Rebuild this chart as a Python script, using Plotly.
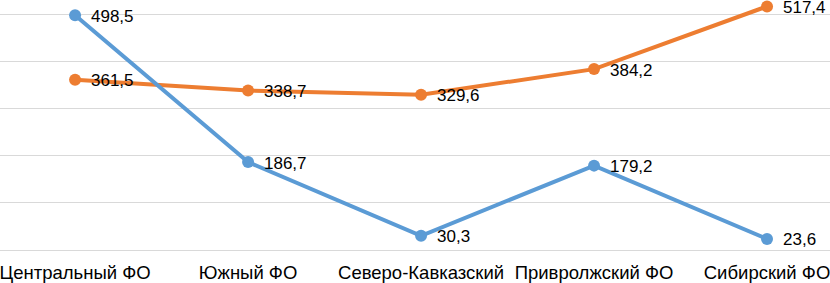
import plotly.graph_objects as go

categories = ["Центральный ФО", "Южный ФО", "Северо-Кавказский", "Привролжский ФО", "Сибирский ФО"]
series_blue = [498.5, 186.7, 30.3, 179.2, 23.6]
series_orange = [361.5, 338.7, 329.6, 384.2, 517.4]

def fmt(v):
    return f"{v:.1f}".replace(".", ",")

FONT = "Liberation Sans, Arial"

fig = go.Figure()
for vals, col in [(series_orange, "#ED7D31"), (series_blue, "#5B9BD5")]:
    fig.add_trace(go.Scatter(
        x=categories, y=vals, mode="lines+markers",
        line=dict(color=col, width=4), marker=dict(size=12, color=col),
        cliponaxis=False, showlegend=False,
    ))
    for c, v in zip(categories, vals):
        fig.add_annotation(x=c, y=v, text=fmt(v), showarrow=False,
                           xanchor="left", yanchor="middle", xshift=14, yshift=-1,
                           font=dict(family=FONT, size=17, color="#000000"))

fig.update_layout(
    width=830, height=283,
    margin=dict(l=0, r=0, t=0, b=33),
    plot_bgcolor="white", paper_bgcolor="white",
    xaxis=dict(type="category", range=[-0.434, 4.364], showgrid=False,
               showline=False, ticks="", zeroline=False, automargin=False,
               ticklabelstandoff=9,
               tickfont=dict(family=FONT, size=18.5, color="#000000")),
    yaxis=dict(range=[0, 531], tickvals=[0, 100, 200, 300, 400, 500],
               showticklabels=False, gridcolor="#D9D9D9", gridwidth=1,
               zeroline=True, zerolinecolor="#D9D9D9", zerolinewidth=1,
               showline=False, automargin=False),
)

fig.write_html("out.html", config={"displayModeBar": False},
               post_script="document.body.style.margin='0';document.body.style.overflow='hidden';")
